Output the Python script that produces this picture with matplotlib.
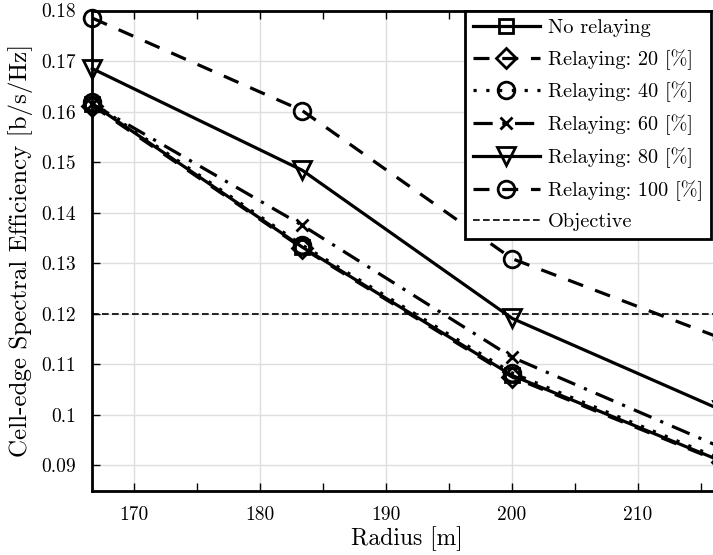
import numpy as np
import matplotlib.pyplot as plt
import matplotlib as mt
from matplotlib.ticker import FuncFormatter, MultipleLocator

#%% data
radius = [500/3, 550/3, 200.0, 650/3]
no_relay = [0.1615, 0.1332, 0.1078, 0.0908]
relay_20 = [0.1612, 0.1330, 0.1075, 0.0906]
relay_40 = [0.1618, 0.1336, 0.1083, 0.0912]
relay_60 = [0.1615, 0.1375, 0.1114, 0.0935]
relay_80 = [0.1685, 0.1484, 0.1191, 0.1009]
relay_100 = [0.1785, 0.1602, 0.1309, 0.1151]
objective = 0.12

labels = ['No relaying', 'Relaying: 20 [%]', 'Relaying: 40 [%]',
          'Relaying: 60 [%]', 'Relaying: 80 [%]', 'Relaying: 100 [%]']

#%% style
mt.rcParams['font.family'] = 'serif'
mt.rcParams['font.serif'] = ['cmr10', 'DejaVu Serif']
mt.rcParams['mathtext.fontset'] = 'cm'
mt.rcParams['axes.unicode_minus'] = False

fig = plt.figure(figsize=(7.13, 5.55), dpi=100)
ax = fig.add_axes([92.3/713, 64.3/555, (722-92.3)/713, (490.7-10.5)/555])

series = [no_relay, relay_20, relay_40, relay_60, relay_80, relay_100]
styles = ['-', (0, (5, 4)), (0, (1, 3)), (0, (6, 3, 1, 3)), '-', (0, (5, 4))]
markers = ['s', 'D', 'o', 'x', 'v', 'o']
msizes = [10, 10, 12, 9, 13, 12]

for ys, ls, mk, ms, lab in zip(series, styles, markers, msizes, labels):
    ax.plot(radius, ys, linestyle=ls, marker=mk, markersize=ms, color='k',
            markerfacecolor='none', markeredgewidth=2.0, linewidth=2.3,
            label=lab, clip_on=False, zorder=3)

ax.axhline(objective, color='k', linestyle=(0, (4, 2)), linewidth=1.2,
           label='Objective', zorder=2)

ax.set_xlim(500/3, 650/3)
ax.set_ylim(0.085, 0.18)
ax.xaxis.set_major_locator(MultipleLocator(10))
ax.xaxis.set_minor_locator(MultipleLocator(5))
ax.yaxis.set_major_locator(MultipleLocator(0.01))
ax.yaxis.set_major_formatter(FuncFormatter(lambda v, p: '%g' % round(v, 3)))
ax.xaxis.set_major_formatter(FuncFormatter(lambda v, p: '%g' % v))

ax.grid(True, which='major', color='#dedede', linewidth=1.0)
ax.set_axisbelow(True)
ax.tick_params(direction='in', which='both', top=True, right=True,
               labelsize=14, width=1.0, length=6)
ax.tick_params(axis='y', pad=12)
ax.tick_params(axis='x', pad=11)
for s in ax.spines.values():
    s.set_linewidth(2.0)

ax.set_xlabel('Radius [m]', fontsize=17, labelpad=2)
ax.set_ylabel('Cell-edge Spectral Efficiency [b/s/Hz]', fontsize=18, labelpad=6)

leg = ax.legend(loc='upper right', bbox_to_anchor=(711/713, 1 - 10.5/555),
                bbox_transform=fig.transFigure, borderaxespad=0, fontsize=14.6,
                fancybox=False, framealpha=1, edgecolor='k', handlelength=3.3,
                labelspacing=0.6, borderpad=0.4, handletextpad=0.4)
leg.get_frame().set_linewidth(2.0)
leg.set_zorder(5)

fig.savefig('out.png', dpi=100)
